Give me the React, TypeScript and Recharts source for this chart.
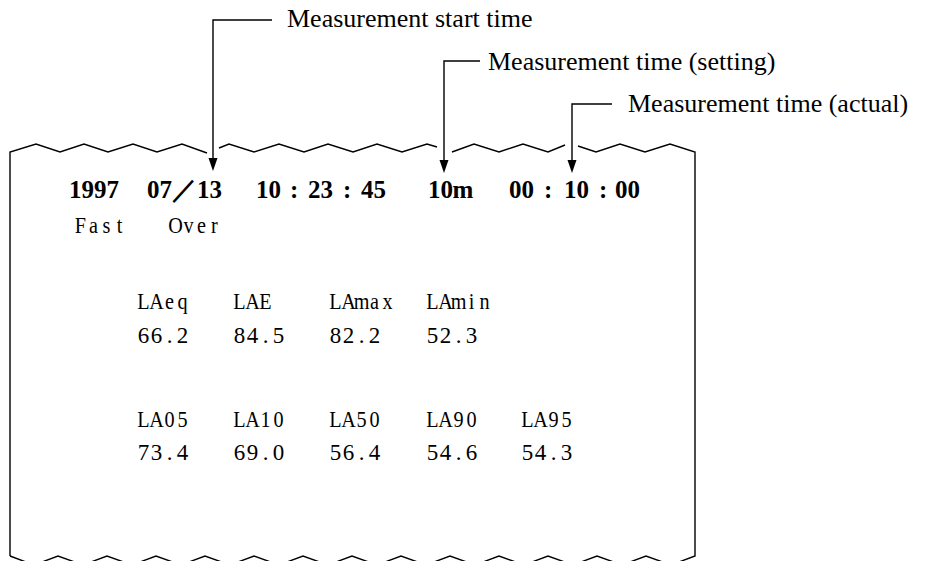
import React from "react";
import { ScatterChart, Scatter, XAxis, YAxis } from "recharts";

const W = 929;
const H = 561;

// paper outline (page pixels, y grows downward)
const outlineLeft = [
  { x: 10, y: 556 }, { x: 10, y: 152 }, { x: 36, y: 144 }, { x: 60, y: 152 },
  { x: 84, y: 144 }, { x: 108, y: 152 }, { x: 133, y: 144 }, { x: 157, y: 152 },
  { x: 182, y: 144 }, { x: 207, y: 153 },
];
const outlineMid1 = [
  { x: 219, y: 148 }, { x: 229, y: 144 }, { x: 254, y: 152 }, { x: 279, y: 144 },
  { x: 304, y: 152 }, { x: 328, y: 144 }, { x: 353, y: 152 }, { x: 377, y: 144 },
  { x: 402, y: 152 }, { x: 427, y: 144 }, { x: 437, y: 147 },
];
const outlineMid2 = [
  { x: 452, y: 152 }, { x: 474, y: 144 }, { x: 499, y: 152 }, { x: 523, y: 144 },
  { x: 548, y: 152 }, { x: 565, y: 145 },
];
const outlineRight = [
  { x: 578, y: 146 }, { x: 596, y: 152 }, { x: 620, y: 144 }, { x: 645, y: 152 },
  { x: 670, y: 144 }, { x: 695, y: 152 }, { x: 695, y: 556 },
  { x: 671, y: 565 }, { x: 646, y: 556 }, { x: 622, y: 565 }, { x: 597, y: 556 },
  { x: 573, y: 565 }, { x: 548, y: 556 }, { x: 524, y: 565 }, { x: 499, y: 556 },
  { x: 475, y: 565 }, { x: 450, y: 556 }, { x: 426, y: 565 }, { x: 401, y: 556 },
  { x: 377, y: 565 }, { x: 352, y: 556 }, { x: 328, y: 565 }, { x: 303, y: 556 },
  { x: 279, y: 565 }, { x: 254, y: 556 }, { x: 230, y: 565 }, { x: 205, y: 556 },
  { x: 181, y: 565 }, { x: 156, y: 556 }, { x: 132, y: 565 }, { x: 107, y: 556 },
  { x: 83, y: 565 }, { x: 58, y: 556 }, { x: 34, y: 565 }, { x: 10, y: 556 },
];

// callout leaders and arrow tips
const leaderStart = [{ x: 272, y: 20 }, { x: 213, y: 20 }, { x: 213, y: 162 }];
const leaderSetting = [{ x: 480, y: 61 }, { x: 444, y: 61 }, { x: 444, y: 165 }];
const leaderActual = [{ x: 612, y: 104 }, { x: 572, y: 104 }, { x: 572, y: 165 }];
const arrowTips = [{ x: 213, y: 171 }, { x: 444, y: 173 }, { x: 572, y: 173 }];

const calloutLabels = [
  { x: 287, y: 27, label: "Measurement start time" },
  { x: 488, y: 70, label: "Measurement time (setting)" },
  { x: 628, y: 112, label: "Measurement time (actual)" },
];

// printed header line
const headerTokens = [
  { x: 69, y: 198, label: "1997" },
  { x: 147, y: 198, label: "07／13" },
  { x: 256, y: 198, label: "10" },
  { x: 288, y: 198, label: ":" },
  { x: 308, y: 198, label: "23" },
  { x: 341, y: 198, label: ":" },
  { x: 361, y: 198, label: "45" },
  { x: 428, y: 198, label: "10m" },
  { x: 509, y: 198, label: "00" },
  { x: 542, y: 198, label: ":" },
  { x: 564, y: 198, label: "10" },
  { x: 597, y: 198, label: ":" },
  { x: 615, y: 198, label: "00" },
];

const modeLabels = [
  { x: 74, y: 233, label: "Fast" },
  { x: 169, y: 233, label: "Over" },
];

const levelNames1 = ["LAeq", "LAE", "LAmax", "LAmin"];
const levelValues1 = ["66.2", "84.5", "82.2", "52.3"];
const levelNames2 = ["LA05", "LA10", "LA50", "LA90", "LA95"];
const levelValues2 = ["73.4", "69.0", "56.4", "54.6", "54.3"];
const columnX = [137, 233, 329, 426, 521];

const names = [
  ...levelNames1.map((label, i) => ({ x: columnX[i], y: 309, label })),
  ...levelNames2.map((label, i) => ({ x: columnX[i], y: 427, label })),
];
const values = [
  ...levelValues1.map((label, i) => ({ x: columnX[i], y: 343, label })),
  ...levelValues2.map((label, i) => ({ x: columnX[i], y: 460, label })),
];

const INK = "#000";
const SERIF = "'Liberation Serif', 'Times New Roman', serif";

const noDot = () => <g />;

// fixed-pitch printer text: every glyph centered in its own cell
const monoText =
  (cell: number, fontSize: number, bold: boolean, scaleX = 1, extraCells: Record<string, number> = {}) =>
  (props: any) => {
    const { cx, cy } = props;
    const label: string = props.payload?.label ?? props.label ?? "";
    const xs: number[] = [];
    let pos = 0;
    for (const ch of label) {
      const span = (ch.charCodeAt(0) > 0x2e80 ? 2 : 1) + (extraCells[ch] ?? 0);
      xs.push((cx + (pos + span / 2) * cell) / scaleX);
      pos += span;
    }
    return (
      <text
        x={xs.map((v) => v.toFixed(2)).join(" ")}
        y={cy}
        transform={scaleX !== 1 ? `scale(${scaleX},1)` : undefined}
        textAnchor="middle"
        fontFamily={SERIF}
        fontSize={fontSize}
        fontWeight={bold ? "bold" : "normal"}
        fill={INK}
      >
        {label}
      </text>
    );
  };

const calloutText = (props: any) => {
  const { cx, cy } = props;
  const label: string = props.payload?.label ?? props.label ?? "";
  return (
    <text x={cx} y={cy} fontFamily={SERIF} fontSize={26} fill={INK}>
      {label}
    </text>
  );
};

const arrowHead = (props: any) => {
  const { cx, cy } = props;
  return (
    <polygon
      points={`${cx - 4.5},${cy - 13} ${cx + 4.5},${cy - 13} ${cx},${cy}`}
      fill={INK}
    />
  );
};

const lineStyle = { stroke: INK, strokeWidth: 1.4, fill: "none" };

export default function App() {
  const outlines = [outlineLeft, outlineMid1, outlineMid2, outlineRight];
  const leaders = [leaderStart, leaderSetting, leaderActual];
  const wordText = monoText(13, 23.5, false, 0.86);
  return (
    <div style={{ position: "absolute", left: 0, top: 0, width: W, height: H, background: "#fff" }}>
      <ScatterChart width={W} height={H} margin={{ top: 0, right: 0, bottom: 0, left: 0 }}>
        <XAxis type="number" dataKey="x" domain={[0, W]} allowDataOverflow hide />
        <YAxis type="number" dataKey="y" domain={[0, H]} allowDataOverflow reversed hide />
        {outlines.map((d, i) => (
          <Scatter key={`o${i}`} data={d} line={lineStyle} lineType="joint" shape={noDot} isAnimationActive={false} />
        ))}
        {leaders.map((d, i) => (
          <Scatter key={`l${i}`} data={d} line={lineStyle} lineType="joint" shape={noDot} isAnimationActive={false} />
        ))}
        <Scatter data={arrowTips} shape={arrowHead} isAnimationActive={false} />
        <Scatter data={calloutLabels} shape={calloutText} isAnimationActive={false} />
        <Scatter data={headerTokens} shape={monoText(12.5, 25, true, 1, { m: 0.6 })} isAnimationActive={false} />
        <Scatter data={modeLabels} shape={wordText} isAnimationActive={false} />
        <Scatter data={names} shape={wordText} isAnimationActive={false} />
        <Scatter data={values} shape={monoText(13, 23, false)} isAnimationActive={false} />
      </ScatterChart>
    </div>
  );
}
